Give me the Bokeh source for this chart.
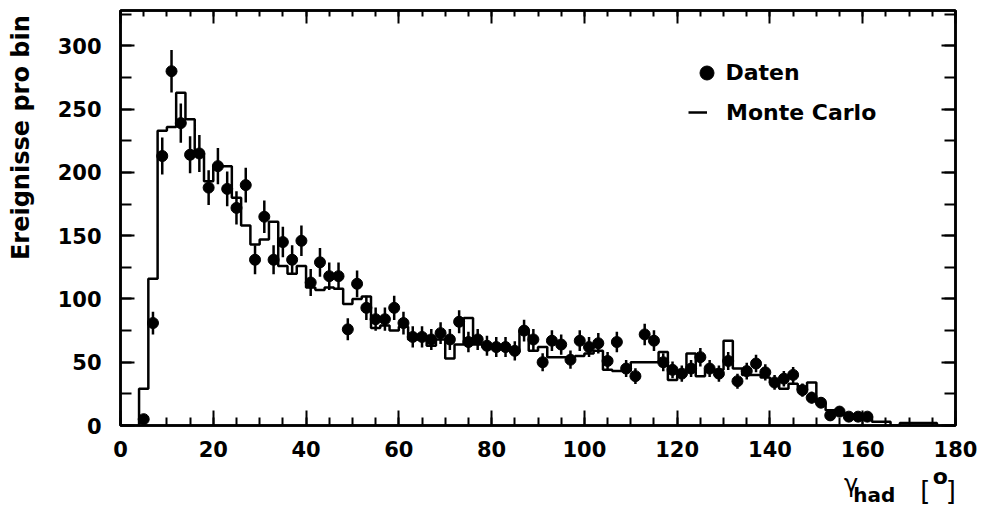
import numpy as np
from bokeh.plotting import figure
from bokeh.models import (Range1d, LinearAxis, SingleIntervalTicker, FixedTicker,
                          Legend, LegendItem)
from bokeh.embed import file_html
from bokeh.resources import INLINE

# Measured events per 2-degree bin (bin centres in degrees)
gamma_centres = list(range(5, 163, 2))
events = [5, 81, 213, 280, 239, 214, 215, 188, 205, 187,
          172, 190, 131, 165, 131, 145, 131, 146, 113, 129,
          118, 118, 76, 112, 93, 84, 84, 93, 81, 70,
          70, 68, 73, 68, 82, 66, 68, 63, 62, 62,
          59, 75, 68, 50, 67, 64, 52, 67, 62, 65,
          51, 66, 45, 39, 72, 67, 50, 44, 41, 45,
          54, 45, 41, 51, 35, 43, 49, 42, 34, 37,
          40, 28, 22, 18, 8, 11, 7, 7, 7]

# Monte Carlo expectation per 2-degree bin (lower bin edges in degrees)
mc_lower_edges = list(range(4, 176, 2))
mc_events = [29, 116, 233, 236, 263, 242, 215, 193, 205, 205,
             180, 158, 143, 147, 161, 126, 120, 126, 109, 107,
             109, 108, 96, 100, 102, 77, 79, 75, 78, 68,
             68, 63, 68, 53, 64, 85, 64, 62, 61, 61,
             58, 75, 59, 62, 54, 54, 54, 55, 57, 59,
             44, 43, 43, 50, 50, 50, 58, 36, 40, 57,
             39, 44, 44, 67, 45, 40, 40, 38, 34, 29,
             33, 28, 34, 18, 12, 10, 8, 7, 7, 3,
             3, 0, 2, 2, 2, 2]
mc_bin_width = 2

x_ticks_major = 20
y_ticks_major = 50

FONT = "DejaVu Sans"

p = figure(width=982, height=520,
           x_range=Range1d(0, 180), y_range=Range1d(0, 328),
           output_backend="svg", toolbar_location=None,
           min_border_left=120, min_border_right=27,
           min_border_top=10, min_border_bottom=95,
           background_fill_color="white", border_fill_color="white")
p.outline_line_color = "black"
p.outline_line_width = 2.5
p.xgrid.visible = False
p.ygrid.visible = False


def style_axis(ax, ticker, major_in, minor_in, show_labels, standoff=0):
    ax.ticker = ticker
    ax.major_tick_in = major_in
    ax.major_tick_out = 0
    ax.minor_tick_in = minor_in
    ax.minor_tick_out = 0
    ax.major_tick_line_width = 2
    ax.minor_tick_line_width = 2
    ax.major_tick_line_color = "black"
    ax.minor_tick_line_color = "black"
    ax.axis_line_width = 2.5
    ax.axis_line_color = "black"
    if show_labels:
        ax.major_label_text_font = FONT
        ax.major_label_text_font_style = "bold"
        ax.major_label_text_font_size = "21px"
        ax.major_label_text_color = "black"
        ax.major_label_standoff = standoff
    else:
        ax.major_label_text_font_size = "0px"
        ax.major_label_text_color = None
        ax.major_label_standoff = 0


def x_ticker():
    return SingleIntervalTicker(interval=x_ticks_major, num_minor_ticks=4)


def y_ticker():
    return SingleIntervalTicker(interval=y_ticks_major, num_minor_ticks=2)


style_axis(p.xaxis[0], x_ticker(), 15, 8, True, standoff=15)
style_axis(p.yaxis[0], y_ticker(), 14, 11, True, standoff=19)

top_axis = LinearAxis()
style_axis(top_axis, x_ticker(), 13, 6, False)
p.add_layout(top_axis, "above")
right_axis = LinearAxis()
style_axis(right_axis, y_ticker(), 14, 11, False)
p.add_layout(right_axis, "right")

# Monte Carlo histogram as a closed step outline
edges = mc_lower_edges + [mc_lower_edges[-1] + mc_bin_width]
step_x = [edges[0]] + edges
step_y = [0] + mc_events + [0]
r_mc = p.step(step_x, step_y, mode="after", line_width=2.5, line_color="black")

# Data points with statistical errors
ev = np.array(events, dtype=float)
err = np.sqrt(ev)
p.segment(x0=gamma_centres, y0=ev - err, x1=gamma_centres, y1=ev + err,
          line_width=2.5, line_color="black")
r_data = p.scatter(gamma_centres, events, marker="circle", size=11,
                   fill_color="black", line_color="black")

legend_style = dict(padding=0, margin=0, border_line_color=None,
                    background_fill_alpha=0, label_text_font=FONT,
                    label_text_font_style="bold", label_text_font_size="22px",
                    label_text_color="black")
leg_data = Legend(items=[LegendItem(label="Daten", renderers=[r_data])],
                  location=(568.5, 335.5), glyph_width=35, glyph_height=35,
                  label_standoff=2, **legend_style)
leg_mc = Legend(items=[LegendItem(label="Monte Carlo", renderers=[r_mc])],
                location=(568, 298), glyph_width=19, glyph_height=30,
                label_standoff=19, **legend_style)
p.add_layout(leg_data)
p.add_layout(leg_mc)


# Axis titles: each piece is the tick label of a bare axis stacked outside
# the main one, which lets sub- and superscripts sit on their own baselines.
def text_row(side, ticks, texts, size, style, standoff, orientation="horizontal"):
    ax = LinearAxis(ticker=FixedTicker(ticks=ticks, minor_ticks=[]),
                    major_label_overrides=dict(zip(ticks, texts)))
    ax.axis_line_color = None
    ax.major_tick_line_color = None
    ax.minor_tick_line_color = None
    ax.major_tick_in = 0
    ax.major_tick_out = 0
    ax.minor_tick_in = 0
    ax.minor_tick_out = 0
    ax.major_label_orientation = orientation
    ax.major_label_standoff = standoff
    ax.major_label_text_font = FONT
    ax.major_label_text_font_style = style
    ax.major_label_text_font_size = size
    ax.major_label_text_color = "black"
    p.add_layout(ax, side)


text_row("left", [227.5], ["Ereignisse pro bin"], "24px", "bold", 19,
         orientation="parallel")

text_row("below", [176.75], ["o"], "22px", "bold", 4)
text_row("below", [157.5], ["\u03b3"], "24px", "normal", -22)
text_row("below", [162.5], ["had"], "20px", "bold", -18)
text_row("below", [173.5, 179.0], ["[", "]"], "26px", "normal", -34)

open("out.html", "w").write(file_html(p, INLINE))
